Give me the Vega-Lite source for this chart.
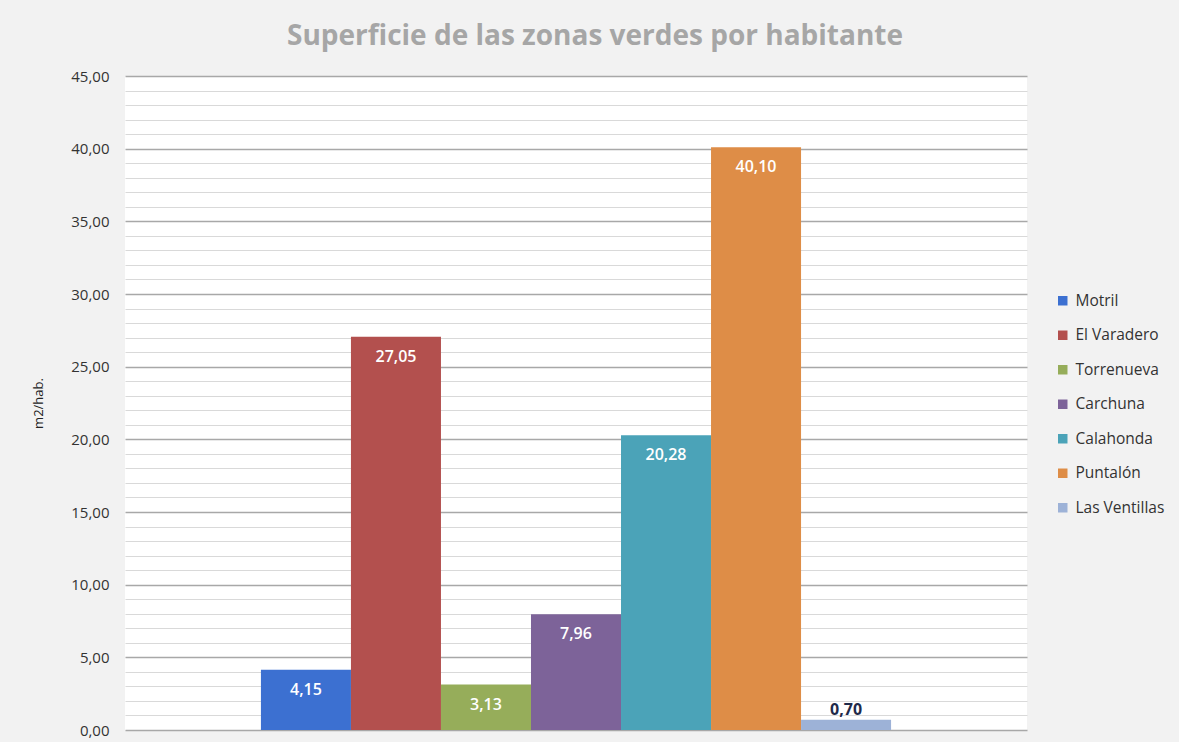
{
  "$schema": "https://vega.github.io/schema/vega-lite/v6.json",
  "autosize": {"type": "none"},
  "padding": {"left": 125, "top": 76, "right": 152, "bottom": 12},
  "width": 902,
  "height": 654,
  "background": "#f2f2f2",
  "title": {
    "text": "Superficie de las zonas verdes por habitante",
    "font": "Open Sans",
    "fontSize": 28,
    "fontWeight": "bold",
    "color": "#a6a6a6",
    "anchor": "middle",
    "dx": 19,
    "offset": 18
  },
  "config": {
    "view": {"fill": "white", "stroke": null},
    "locale": {"number": {"decimal": ",", "thousands": ".", "grouping": [3], "currency": ["", " €"]}},
    "font": "Open Sans"
  },
  "data": {
    "values": [
      {"zona": "Motril", "valor": 4.15},
      {"zona": "El Varadero", "valor": 27.05},
      {"zona": "Torrenueva", "valor": 3.13},
      {"zona": "Carchuna", "valor": 7.96},
      {"zona": "Calahonda", "valor": 20.28},
      {"zona": "Puntalón", "valor": 40.10},
      {"zona": "Las Ventillas", "valor": 0.70}
    ]
  },
  "encoding": {
    "x": {
      "field": "zona",
      "type": "nominal",
      "sort": null,
      "scale": {
        "domain": ["_izq", "Motril", "El Varadero", "Torrenueva", "Carchuna", "Calahonda", "Puntalón", "Las Ventillas", "_der"],
        "paddingInner": 0,
        "paddingOuter": 0.51
      },
      "axis": null
    },
    "y": {
      "field": "valor",
      "type": "quantitative",
      "scale": {"domain": [0, 45], "nice": false},
      "axis": {
        "title": "m2/hab.",
        "titleFont": "Open Sans",
        "titleFontSize": 13,
        "titleFontWeight": "normal",
        "titleColor": "#222222",
        "titlePadding": 25,
        "values": [0,1,2,3,4,5,6,7,8,9,10,11,12,13,14,15,16,17,18,19,20,21,22,23,24,25,26,27,28,29,30,31,32,33,34,35,36,37,38,39,40,41,42,43,44,45],
        "format": ".2f",
        "labelExpr": "datum.value % 5 === 0 ? datum.label : ''",
        "labelFont": "Open Sans",
        "labelFontSize": 15,
        "labelColor": "#333333",
        "labelPadding": 16,
        "ticks": false,
        "domain": false,
        "grid": true,
        "gridColor": {"condition": {"test": "datum.value % 5 === 0", "value": "#a8a8a8"}, "value": "#d9d9d9"},
        "gridWidth": {"condition": {"test": "datum.value % 5 === 0", "value": 1.5}, "value": 1.2}
      }
    }
  },
  "layer": [
    {
      "mark": {"type": "bar"},
      "encoding": {
        "color": {
          "field": "zona",
          "type": "nominal",
          "scale": {
            "domain": ["Motril", "El Varadero", "Torrenueva", "Carchuna", "Calahonda", "Puntalón", "Las Ventillas"],
            "range": ["#3c70d1", "#b3504e", "#96ad5a", "#7d6399", "#4ba3b8", "#de8d47", "#9db2d7"]
          },
          "legend": {
            "title": null,
            "orient": "none",
            "legendX": 930,
            "legendY": 217,
            "symbolType": "square",
            "symbolSize": 90,
            "symbolStrokeWidth": 0,
            "labelFont": "Open Sans",
            "labelFontSize": 15.5,
            "labelColor": "#333333",
            "labelOffset": 5,
            "rowPadding": 17.5
          }
        }
      }
    },
    {
      "transform": [{"filter": "datum.valor >= 1"}],
      "mark": {"type": "text", "baseline": "middle", "dy": 20, "color": "white", "fontSize": 16, "font": "Open Sans", "fontWeight": 600},
      "encoding": {"text": {"field": "valor", "type": "quantitative", "format": ".2f"}}
    },
    {
      "transform": [{"filter": "datum.valor < 1"}],
      "mark": {"type": "text", "baseline": "middle", "dy": -10, "color": "#1f2a4a", "fontSize": 16, "fontWeight": "bold", "font": "Open Sans"},
      "encoding": {"text": {"field": "valor", "type": "quantitative", "format": ".2f"}}
    }
  ]
}
